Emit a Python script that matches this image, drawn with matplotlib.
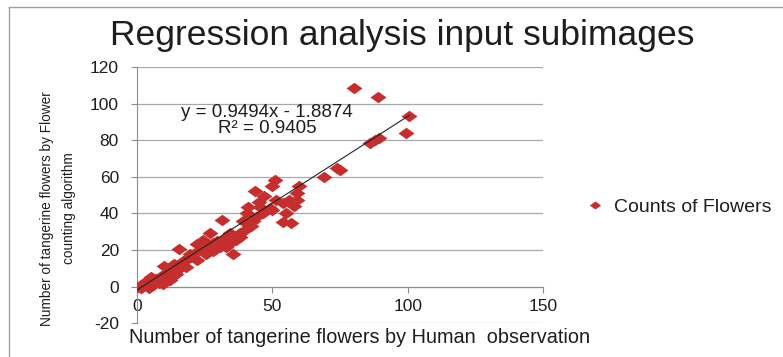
import matplotlib
matplotlib.use("Agg")
import matplotlib.pyplot as plt
from matplotlib.lines import Line2D
import numpy as np

plt.rcParams["font.family"] = ["Liberation Sans", "DejaVu Sans"]
plt.rcParams["axes.unicode_minus"] = False

# counts: human observation vs. algorithm
human_counts = [
    80, 89, 100.5, 99.5, 89.5, 88, 86, 75, 74, 69,
    51, 50, 60, 43.5, 59, 56, 51.5, 47, 45,
    41, 45.5, 49, 58, 54, 57, 40.5, 44, 39, 31.5,
    42, 38, 34.5, 35.5, 33, 29.5, 27, 24.5, 22, 15.5,
    19.5, 17, 18, 13.5, 10, 12, 8.5, 6, 3.5, 1, 2, 4.5,
    9.5, 12, 14.5, 22, 25.5, 28, 30.5, 34, 36.5, 40,
    43, 46.5, 50, 54, 55, 59, 38, 26, 20, 16, 11, 7, 5, 3,
    0.5, 1.5, 6, 8, 32, 28, 23, 18, 14, 10,
]
algo_counts = [
    108.5, 103.5, 93, 84, 81.5, 80, 78.5, 64, 65, 60,
    58.5, 55, 55, 52.5, 51, 47.5, 47.5, 49.5, 46,
    43.5, 43.5, 43, 44, 35.5, 35, 40, 38, 36, 36.5,
    33, 29, 29, 18, 21.5, 25, 29, 25.5, 23.5, 20.5,
    18, 14, 10.5, 12.5, 11, 7, 5, 3.5, 1.5, 0.5, 0, -1,
    1.5, 3.5, 7, 14.5, 18, 19.5, 21.5, 23.5, 25.5, 31,
    36, 40, 42, 45.5, 40, 47.5, 27, 21, 16, 10, 8, 4, 5, 2.5,
    0, -1, 1, 2, 26, 24, 20, 14.5, 9, 6.5,
]

slope = 0.9494
intercept = -1.8874
r_squared = 0.9405

x_ticks = [0, 50, 100, 150]
y_ticks = [-20, 0, 20, 40, 60, 80, 100, 120]

RED = "#C62E2E"
GRID = "#a8a8a8"
TEXT = "#1e1e1e"

fig = plt.figure(figsize=(7.83, 3.57), dpi=100)
ax = fig.add_axes([0.175, 0.095, 0.5185, 0.717])

# wide diamond, like the stretched Excel marker
diamond = [(-1, 0), (0, 0.72), (1, 0), (0, -0.72), (-1, 0)]
ax.plot(human_counts, algo_counts, linestyle="none", marker=diamond,
        markersize=11.5, color=RED, markeredgewidth=0, zorder=3,
        label="Counts of Flowers")

xs = np.array([0, max(human_counts)])
ax.plot(xs, slope * xs + intercept, color="#222222", lw=0.8, zorder=4)

ax.set_xlim(0, 150)
ax.set_ylim(-20, 120)
ax.set_xticks(x_ticks)
ax.set_yticks(y_ticks)
ax.grid(axis="y", color=GRID, lw=0.9)
ax.set_axisbelow(True)

for s in ["top", "right"]:
    ax.spines[s].set_visible(False)
ax.spines["bottom"].set_position(("data", 0))
ax.spines["bottom"].set_color("#8c8c8c")
ax.spines["left"].set_color("#8c8c8c")
ax.tick_params(axis="both", direction="out", length=4, color="#8c8c8c",
               labelsize=12.5, labelcolor=TEXT)
ax.tick_params(axis="y", pad=9)
ax.tick_params(axis="x", pad=5)

ax.text(48, 95, f"y = {slope}x - {abs(intercept)}", ha="center",
        va="center", fontsize=13.5, color=TEXT)
ax.text(48, 86.3, f"R\u00b2 = {r_squared}", ha="center", va="center",
        fontsize=13.5, color=TEXT)

fig.text(0.514, 0.900, "Regression analysis input subimages", ha="center",
         va="center", fontsize=25.5, color=TEXT)
fig.text(0.459, 0.056, "Number of tangerine flowers by Human  observation",
         ha="center", va="center", fontsize=14.3, color=TEXT)
fig.text(0.074, 0.417, "Number of tangerine flowers by Flower\ncounting algorithm",
         ha="center", va="center", rotation=90, fontsize=9.8, color=TEXT,
         linespacing=1.8)

leg = fig.legend(loc="center left", bbox_to_anchor=(0.755, 0.42),
                 frameon=False, fontsize=14, markerscale=0.7,
                 handlelength=0.4, handletextpad=0.75, borderaxespad=0,
                 borderpad=0)
for t in leg.get_texts():
    t.set_color(TEXT)

# chart-area border, only top and left show in the crop
fig.add_artist(Line2D([9 / 783, 9 / 783], [0, 1 - 7 / 357],
                      color="#a0a0a0", lw=1.0, transform=fig.transFigure))
fig.add_artist(Line2D([9 / 783, 1], [1 - 7 / 357, 1 - 7 / 357],
                      color="#a0a0a0", lw=1.0, transform=fig.transFigure))

fig.savefig("out.png", dpi=100)
